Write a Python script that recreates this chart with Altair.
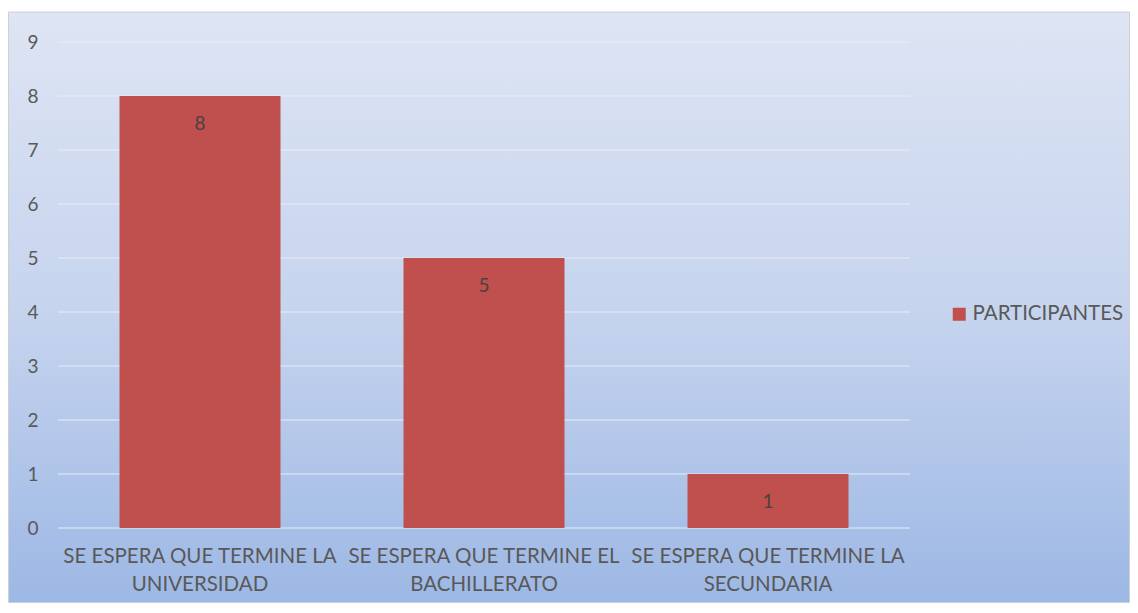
import altair as alt
import pandas as pd

categories = [
    "SE ESPERA QUE TERMINE LA\nUNIVERSIDAD",
    "SE ESPERA QUE TERMINE EL\nBACHILLERATO",
    "SE ESPERA QUE TERMINE LA\nSECUNDARIA",
]
values = [8, 5, 1]
series = "PARTICIPANTES"
y_ticks = [0, 1, 2, 3, 4, 5, 6, 7, 8, 9]

df = pd.DataFrame({"cat": categories, "val": values, "serie": [series] * len(values)})
grid_df = pd.DataFrame({"t": y_ticks})

W, H = 852, 486
PAD = {"left": 50, "top": 34, "right": 220, "bottom": 75}
FONT = "Lato"

bg = alt.Chart(pd.DataFrame({"a": [0]})).mark_rect(
    color=alt.Gradient(
        gradient="linear",
        stops=[alt.GradientStop(color="#DEE5F4", offset=0),
               alt.GradientStop(color="#C6D4EE", offset=0.5),
               alt.GradientStop(color="#9DB8E5", offset=1)],
        x1=0, x2=0, y1=0, y2=1,
    ),
    stroke="#D0D0D0",
    strokeWidth=1,
).encode(
    x=alt.value(-PAD["left"] + 0.5),
    x2=alt.value(W + PAD["right"] - 0.5),
    y=alt.value(-PAD["top"] + 4),
    y2=alt.value(H + PAD["bottom"] - 0.5),
)

yscale = alt.Scale(domain=[0, 9], nice=False)
yaxis = alt.Axis(values=y_ticks, format="d", labelFontSize=19, labelColor="#595959",
                 labelFont=FONT, labelPadding=20, ticks=False, domain=False,
                 grid=False, zindex=1)

grid = alt.Chart(grid_df).mark_rule(color="#E8EDF6", strokeWidth=1).encode(
    y=alt.Y("t:Q", scale=yscale, axis=yaxis, title=None),
    x=alt.value(0),
    x2=alt.value(W),
)

base = alt.Chart(df).encode(
    x=alt.X("cat:N", sort=categories, title=None,
            scale=alt.Scale(paddingInner=0.43, paddingOuter=0.215),
            axis=alt.Axis(labelAngle=0, labelExpr="split(datum.label, '\\n')",
                          labelFontSize=20.5, labelColor="#595959", labelFont=FONT,
                          labelPadding=18, labelLineHeight=28, ticks=False, domain=False,
                          grid=False, labelLimit=400, zindex=1)),
)

bars = base.mark_bar(size=161).encode(
    y=alt.Y("val:Q", title=None, scale=yscale, axis=yaxis),
    color=alt.Color("serie:N", title=None,
                    scale=alt.Scale(domain=[series], range=["#C0504D"]),
                    legend=alt.Legend(orient="none", legendX=891, legendY=262,
                                      symbolType="square", symbolSize=169,
                                      symbolStrokeWidth=0, labelFontSize=20.5,
                                      labelFont=FONT, labelColor="#595959",
                                      labelOffset=3, zindex=1)),
)

labels = base.mark_text(baseline="middle", dy=28, fontSize=19, font=FONT,
                        color="#4A4040").encode(
    y=alt.Y("val:Q"),
    text=alt.Text("val:Q"),
)

chart = alt.layer(bg, grid, bars, labels).properties(
    width=W, height=H, padding=PAD, autosize=alt.AutoSizeParams(type="none"),
    background="white",
).configure_view(stroke=None)

chart.save("out.html", embed_options={"renderer": "svg", "actions": False})
